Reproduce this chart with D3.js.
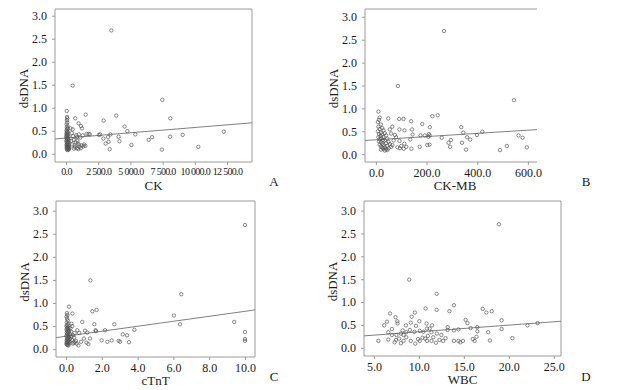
<!DOCTYPE html>
<html>
<head>
<meta charset="utf-8">
<script src="https://cdn.jsdelivr.net/npm/d3@7"></script>
<style>
  body { margin: 0; background: #fff; }
  text { font-family: "Liberation Serif", "Times New Roman", serif; fill: #1a1a1a; }
</style>
</head>
<body>
<div id="chart"></div>
<script>
// dsDNA against CK
var ckPoints = [
  [3520,2.68],[520,1.48],[7480,1.17],[8100,0.77],[3900,0.83],[2920,0.72],[1530,0.85],[4550,0.59],
  [4760,0.49],[5380,0.42],[1850,0.42],[2550,0.41],[2650,0.42],[3450,0.42],[3260,0.36],[2900,0.33],
  [3310,0.26],[3080,0.22],[4150,0.27],[4080,0.37],[3390,0.10],[5080,0.19],[6420,0.30],[6680,0.36],
  [7450,0.09],[8080,0.37],[9060,0.41],[10270,0.15],[12250,0.48],
  [60,0.93],[80,0.80],[100,0.77],[70,0.73],[90,0.68],[50,0.64],[120,0.60],[60,0.57],[150,0.55],
  [80,0.53],[40,0.50],[110,0.48],[70,0.46],[160,0.45],[30,0.43],[90,0.42],[130,0.40],[60,0.39],
  [200,0.38],[20,0.37],[100,0.35],[170,0.34],[50,0.33],[140,0.31],[80,0.30],[220,0.29],[30,0.28],
  [110,0.26],[180,0.25],[60,0.24],[150,0.22],[90,0.21],[240,0.20],[40,0.19],[120,0.18],[200,0.17],
  [70,0.16],[160,0.15],[100,0.14],[230,0.13],[50,0.12],[140,0.11],[190,0.10],[80,0.09],[120,0.08],
  [260,0.12],[210,0.09],[170,0.14],
  [350,0.55],[450,0.45],[520,0.53],[600,0.30],[720,0.77],[650,0.18],[800,0.40],[900,0.22],
  [980,0.66],[1050,0.15],[1160,0.60],[1240,0.55],[1300,0.40],[1100,0.35],[850,0.12],[750,0.25],
  [950,0.10],[1400,0.20],[1500,0.17],[1200,0.18],[1350,0.16],[1000,0.20],[700,0.14],[550,0.38],
  [400,0.28],[480,0.20],[620,0.11],[1600,0.43],[1750,0.43],[1000,0.42],[850,0.36],[1150,0.12],[880,0.28]
];

// dsDNA against CK-MB
var ckmbPoints = [
  [269,2.69],[87,1.49],[545,1.18],[244,0.85],[223,0.83],[49,0.78],[92,0.77],[109,0.77],[139,0.72],
  [183,0.66],[213,0.59],[337,0.59],[143,0.54],[93,0.54],[113,0.52],[345,0.47],[420,0.49],[145,0.43],
  [193,0.41],[176,0.41],[209,0.44],[207,0.38],[212,0.41],[399,0.42],[360,0.37],[372,0.32],[563,0.41],
  [579,0.36],[260,0.36],[296,0.31],[287,0.25],[340,0.25],[136,0.32],[140,0.12],[173,0.16],[203,0.20],
  [212,0.21],[293,0.16],[356,0.10],[490,0.09],[517,0.18],[596,0.15],[93,0.29],[112,0.23],
  [10,0.93],[15,0.80],[12,0.75],[8,0.70],[20,0.65],[10,0.60],[25,0.57],[15,0.55],[30,0.52],[8,0.50],
  [20,0.47],[35,0.46],[12,0.44],[25,0.43],[40,0.41],[18,0.40],[30,0.38],[10,0.37],[22,0.35],[45,0.34],
  [15,0.33],[28,0.31],[35,0.30],[12,0.28],[50,0.27],[20,0.26],[40,0.24],[25,0.23],[55,0.22],[15,0.21],
  [30,0.20],[45,0.18],[20,0.17],[60,0.16],[35,0.15],[25,0.14],[50,0.13],[30,0.12],[40,0.11],[20,0.10],
  [45,0.09],[35,0.08],[65,0.20],[70,0.30],[75,0.42],[60,0.45],[80,0.37],[85,0.15],[95,0.13],[100,0.18],
  [110,0.12],[120,0.16],[65,0.60],[55,0.54]
];

// dsDNA against cTnT
var ctntPoints = [
  [10,2.69],[1.36,1.49],[6.44,1.19],[6.03,0.73],[6.37,0.54],[9.4,0.59],[10,0.37],[10,0.22],[10,0.18],
  [1.47,0.82],[1.71,0.85],[0.17,0.92],[0.36,0.77],[0.91,0.59],[1.58,0.54],[2.7,0.54],[1.65,0.41],
  [1.67,0.39],[2.18,0.41],[3.82,0.42],[0.63,0.41],[1.06,0.40],[1.19,0.36],[0.74,0.35],[3.17,0.32],
  [3.41,0.30],[1.34,0.23],[1.0,0.23],[1.99,0.19],[2.31,0.16],[2.55,0.19],[2.94,0.18],[3.02,0.16],
  [3.52,0.15],[1.15,0.14],[1.25,0.11],[0.69,0.08],[0.84,0.16],
  [0.05,0.78],[0.08,0.74],[0.03,0.70],[0.06,0.66],[0.1,0.62],[0.04,0.58],[0.12,0.55],[0.07,0.52],
  [0.02,0.50],[0.09,0.48],[0.15,0.46],[0.05,0.45],[0.11,0.43],[0.03,0.42],[0.18,0.40],[0.08,0.39],
  [0.13,0.37],[0.04,0.36],[0.1,0.34],[0.2,0.33],[0.06,0.32],[0.14,0.30],[0.02,0.29],[0.09,0.28],
  [0.17,0.26],[0.05,0.25],[0.12,0.24],[0.22,0.22],[0.07,0.21],[0.15,0.20],[0.03,0.19],[0.1,0.18],
  [0.19,0.17],[0.06,0.16],[0.13,0.15],[0.04,0.14],[0.09,0.13],[0.16,0.12],[0.02,0.11],[0.11,0.10],
  [0.07,0.09],[0.14,0.08],[0.3,0.55],[0.35,0.50],[0.28,0.38],[0.4,0.30],[0.45,0.25],[0.33,0.20],
  [0.5,0.15],[0.38,0.12],[0.55,0.18],[0.25,0.45],[0.42,0.14],[0.6,0.12],[0.48,0.35],[0.3,0.28]
];

// dsDNA against WBC
var wbcPoints = [
  [18.9,2.70],[8.93,1.49],[11.98,1.18],[10.75,0.86],[13.9,0.93],[17.1,0.85],[18.1,0.80],[17.5,0.77],
  [11.98,0.83],[13.4,0.80],[9.56,0.77],[6.8,0.75],[7.4,0.67],[9.2,0.68],[6.45,0.57],[7.6,0.58],
  [10.05,0.58],[19.2,0.60],[15.2,0.61],[15.4,0.54],[9.1,0.55],[7.63,0.53],[6.15,0.49],[22.07,0.49],
  [23.2,0.54],[19.2,0.41],[17.7,0.34],[17.9,0.16],[20.4,0.21],[16.5,0.45],[16.5,0.36],[15.75,0.43],
  [14.4,0.40],[13.2,0.45],[13.2,0.39],[13.9,0.38],[16.4,0.24],[16.0,0.19],[16.2,0.15],[14.9,0.15],
  [14.4,0.15],[14.6,0.12],[13.9,0.15],[5.5,0.15],[6.6,0.18],[7.3,0.12],[7.8,0.20],[8.3,0.15],
  [8.6,0.23],[9.1,0.15],[9.6,0.09],[10.1,0.15],[10.4,0.22],[10.9,0.15],[11.4,0.15],[11.9,0.11],
  [12.3,0.17],[12.7,0.15],[12.97,0.21],[12.5,0.28],[12.0,0.31],[11.4,0.34],[10.9,0.42],[10.5,0.35],
  [10.1,0.37],[9.5,0.35],[9.0,0.39],[8.6,0.34],[8.3,0.28],[8.0,0.31],[7.5,0.28],[7.0,0.28],
  [6.6,0.34],[7.0,0.41],[8.56,0.49],[9.68,0.48],[10.86,0.53],[11.46,0.49],[11.2,0.42],[8.2,0.38],
  [10.7,0.20],[9.9,0.19],[8.0,0.10],[7.45,0.17],[11.6,0.23],[11.0,0.26]
];

// fitted lines: [intercept, slope]
var ckFit = [0.34, 0.000023];
var ckmbFit = [0.315, 0.00035];
var ctntFit = [0.28, 0.054];
var wbcFit = [0.203, 0.0146];

var dsTicks = [0, 0.5, 1, 1.5, 2, 2.5, 3];
var ckTicks = [0, 2500, 5000, 7500, 10000, 12500];
var ckmbTicks = [0, 200, 400, 600];
var ctntTicks = [0, 2, 4, 6, 8, 10];
var wbcTicks = [5, 10, 15, 20, 25];

var xTitles = ["CK", "CK-MB", "cTnT", "WBC"];
var panelLetters = ["A", "B", "C", "D"];

var panels = [
  { pts: ckPoints, fit: ckFit, ticks: ckTicks, xd: [-854, 14440], yd: [-0.18, 3.146],
    box: [55, 9, 252, 162], right: true, tickSize: 10, spacing: -0.7, fmt: function (v) { return d3.format(",.1f")(v).replace(/,/g, " "); } },
  { pts: ckmbPoints, fit: ckmbFit, ticks: ckmbTicks, xd: [-43, 636], yd: [-0.17, 3.17],
    box: [365, 9, 537, 162], right: false, tickSize: 12, spacing: 0, fmt: d3.format(".1f") },
  { pts: ctntPoints, fit: ctntFit, ticks: ctntTicks, xd: [-0.56, 10.56], yd: [-0.17, 3.21],
    box: [56, 201, 255, 357], right: true, tickSize: 12, spacing: 0, fmt: d3.format(".1f") },
  { pts: wbcPoints, fit: wbcFit, ticks: wbcTicks, xd: [3.9, 25.8], yd: [-0.18, 3.21],
    box: [364, 201, 561, 356], right: true, tickSize: 12, spacing: 0, fmt: d3.format(".1f") }
];

var svg = d3.select("#chart").append("svg")
  .attr("width", 618)
  .attr("height", 390);

panels.forEach(function (p, i) {
  var x0 = p.box[0], y0 = p.box[1], x1 = p.box[2], y1 = p.box[3];
  var x = d3.scaleLinear().domain(p.xd).range([x0, x1]);
  var y = d3.scaleLinear().domain(p.yd).range([y1, y0]);
  var g = svg.append("g");

  // frame
  var frame = "M" + x1 + "," + y0 + "H" + x0 + "V" + y1 + "H" + x1;
  if (p.right) frame += "V" + y0;
  g.append("path").attr("d", frame)
    .attr("fill", "none").attr("stroke", "#9a9a9a").attr("stroke-width", 1);

  // y axis
  var ya = g.append("g").attr("transform", "translate(" + x0 + ",0)")
    .call(d3.axisLeft(y).tickValues(dsTicks).tickFormat(d3.format(".1f")).tickSize(3).tickPadding(5));
  ya.select(".domain").remove();
  ya.selectAll("line").attr("stroke", "#9a9a9a");
  ya.selectAll("text").style("font-size", "12px").attr("fill", "#1a1a1a")
    .style("font-family", "'Liberation Serif', serif");

  // x axis
  var xa = g.append("g").attr("transform", "translate(0," + y1 + ")")
    .call(d3.axisBottom(x).tickValues(p.ticks).tickFormat(p.fmt).tickSize(3).tickPadding(3));
  xa.select(".domain").remove();
  xa.selectAll("line").attr("stroke", "#9a9a9a");
  xa.selectAll("text").style("font-size", p.tickSize + "px").attr("fill", "#1a1a1a")
    .style("letter-spacing", p.spacing + "px")
    .style("font-family", "'Liberation Serif', serif");

  // regression line
  g.append("line")
    .attr("x1", x(p.xd[0])).attr("y1", y(p.fit[0] + p.fit[1] * p.xd[0]))
    .attr("x2", x(p.xd[1])).attr("y2", y(p.fit[0] + p.fit[1] * p.xd[1]))
    .attr("stroke", "#808080").attr("stroke-width", 1);

  // points
  g.selectAll("circle").data(p.pts).join("circle")
    .attr("cx", function (d) { return x(d[0]); })
    .attr("cy", function (d) { return y(d[1]); })
    .attr("r", 1.7)
    .attr("fill", "none")
    .attr("stroke", "#555")
    .attr("stroke-width", 0.7);

  // titles
  g.append("text")
    .attr("transform", "translate(" + (x0 - 27) + "," + ((y0 + y1) / 2 + 3) + ")rotate(-90)")
    .attr("text-anchor", "middle")
    .style("font-size", "13px")
    .text("dsDNA");

  g.append("text")
    .attr("x", (x0 + x1) / 2 + (i == 1 ? 4 : 0))
    .attr("y", y1 + 28)
    .attr("text-anchor", "middle")
    .style("font-size", "13px")
    .text(xTitles[i]);

  g.append("text")
    .attr("x", i % 2 == 0 ? 274 : 586)
    .attr("y", i < 2 ? 186 : 381)
    .attr("text-anchor", "middle")
    .style("font-size", "13px")
    .text(panelLetters[i]);
});
</script>
</body>
</html>
